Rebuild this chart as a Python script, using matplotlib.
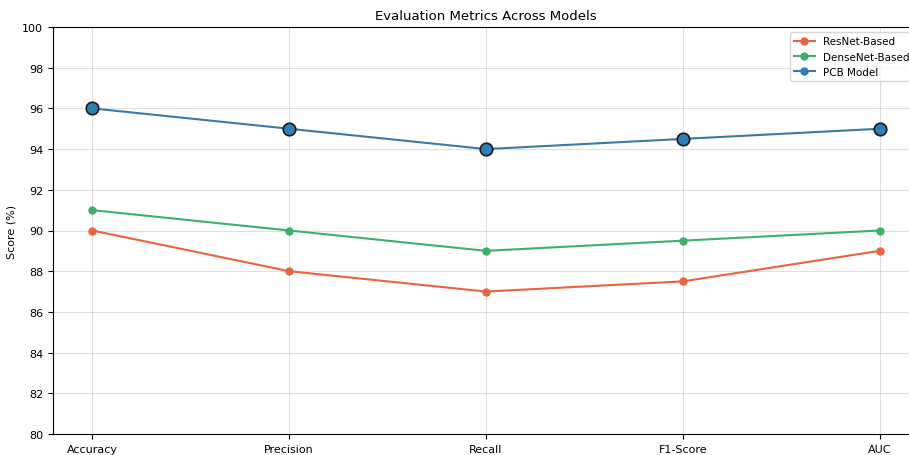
import matplotlib.pyplot as plt

metrics = ['Accuracy', 'Precision', 'Recall', 'F1-Score', 'AUC']
resnet = [90, 88, 87, 87.5, 89]
densenet = [91, 90, 89, 89.5, 90]
pcb = [96, 95, 94, 94.5, 95]

fig = plt.figure(figsize=(9.09, 4.56), dpi=100)
# axes run slightly past the right edge, as in the cropped original
ax = fig.add_axes([53 / 909, 1 - 435 / 456, (919 - 53) / 909, (435 - 28) / 456])

ax.plot(metrics, resnet, marker='o', color='#E8643F', markersize=5, linewidth=1.5, label='ResNet-Based')
ax.plot(metrics, densenet, marker='o', color='#3DB06B', markersize=5, linewidth=1.5, label='DenseNet-Based')
ax.plot(metrics, pcb, marker='o', color='#3A7AA3', markerfacecolor='#2F7EB8', markeredgecolor='#2F7EB8',
        markersize=5, linewidth=1.5, label='PCB Model')
# highlight the PCB points
ax.plot(metrics, pcb, linestyle='none', marker='o', markersize=9, markerfacecolor='#2F7EB8',
        markeredgecolor='#1a1a1a', markeredgewidth=1.2)

ax.set_ylim(80, 100)
ax.set_yticks(range(80, 101, 2))
ax.set_ylabel('Score (%)', fontsize=8)
ax.set_title('Evaluation Metrics Across Models', fontsize=9.5)
ax.tick_params(labelsize=8)
ax.grid(True, alpha=0.4)
ax.legend(loc='upper right', fontsize=7.5)

fig.savefig('out.png', dpi=100)
